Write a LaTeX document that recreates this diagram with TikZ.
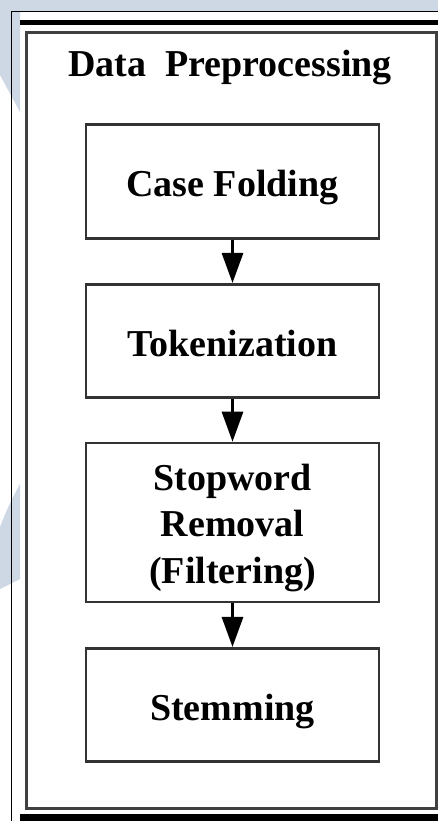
\documentclass[tikz,border=0pt]{standalone}
\usepackage{fontspec}
\setmainfont{Liberation Serif}
\usetikzlibrary{arrows.meta}
\definecolor{wmblue}{HTML}{CDD8E4}

\begin{document}
\begin{tikzpicture}[x=1pt,y=-1pt,
    stepbox/.style={draw=black!80, line width=2.6pt, minimum width=293pt,
      minimum height=113.5pt, inner sep=0pt, align=center,
      text height=30pt, text depth=0pt,
      font=\fontsize{38}{46.5}\selectfont\bfseries},
    flow/.style={line width=3pt, -{Triangle[width=21pt,length=30pt]}}]
  \useasboundingbox (0,0) rectangle (438,821);
  % page background with the watermark bits on the left
  \fill[wmblue] (0,0) rectangle (438,821);
  \fill[white] (0,11) rectangle (438,821);
  \fill[wmblue] (0,11) -- (20,11) -- (20,112) -- (0,75) -- cycle;
  \fill[wmblue] (0,527) .. controls (8,506) and (14,495) .. (20,484) -- (20,579) -- (0,589) -- cycle;
  \draw[line width=1pt] (11.5,821) -- (11.5,11.5) -- (438,11.5);
  \fill[black] (20,20) rectangle (438,25);
  \fill[black] (20,814) rectangle (438,821);
  \draw[black!75, line width=3pt] (26.5,33) rectangle (436,808.5);
  % title and steps
  \node[anchor=base, font=\fontsize{38}{46.5}\selectfont\bfseries] (title) at (230,77) {Data~~Preprocessing};
  \node[stepbox] (fold) at (232.5,181.5) {Case Folding};
  \node[stepbox] (token) at (232.5,341) {Tokenization};
  \node[stepbox, minimum height=159pt, text height=121pt] (stop) at (232.5,522.5) {Stopword\\Removal\\(Filtering)};
  \node[stepbox] (stem) at (232.5,705) {Stemming};
  \draw[flow] (fold) -- (token);
  \draw[flow] (token) -- (stop);
  \draw[flow] (stop) -- (stem);
\end{tikzpicture}
\end{document}
